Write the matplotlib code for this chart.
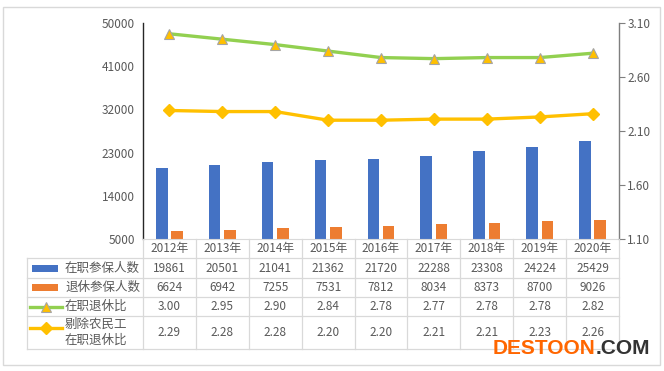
import matplotlib
matplotlib.use("Agg")
import matplotlib.pyplot as plt
from matplotlib.lines import Line2D
from matplotlib.patches import Rectangle
import matplotlib.transforms as mtransforms

plt.rcParams['font.family'] = ['Noto Sans CJK SC', 'DejaVu Sans']

years = ['2012年', '2013年', '2014年', '2015年', '2016年', '2017年', '2018年', '2019年', '2020年']
active = [19861, 20501, 21041, 21362, 21720, 22288, 23308, 24224, 25429]
retired = [6624, 6942, 7255, 7531, 7812, 8034, 8373, 8700, 9026]
ratio = [3.00, 2.95, 2.90, 2.84, 2.78, 2.77, 2.78, 2.78, 2.82]
ratio_ex = [2.29, 2.28, 2.28, 2.20, 2.20, 2.21, 2.21, 2.23, 2.26]
left_ticks = [5000, 14000, 23000, 32000, 41000, 50000]
right_ticks = [1.10, 1.60, 2.10, 2.60, 3.10]
row_labels = ['在职参保人数', '退休参保人数', '在职退休比', '剔除农民工\n在职退休比']

BLUE = '#4472C4'
ORANGE = '#ED7D31'
GREEN = '#92D050'
YELLOW = '#FFC000'
TXT = '#595959'
GRID = '#D9D9D9'

W, H = 664, 371
fig = plt.figure(figsize=(W / 100, H / 100), dpi=100)

def fx(x):
    return x / W

def fy(y):
    return 1 - y / H

# outer border
fig.add_artist(Rectangle((fx(3), fy(365)), fx(657), (362 - 4) / H, transform=fig.transFigure,
                         fill=False, edgecolor=GRID, lw=1.0))

L, R, T, B = 143, 619, 23, 239
ax = fig.add_axes([fx(L), fy(B), (R - L) / W, (B - T) / H])
ax2 = ax.twinx()

n = len(years)
xs = list(range(n))
bw = 0.22
ax.bar([x - 0.145 for x in xs], active, width=bw, color=BLUE, zorder=2)
ax.bar([x + 0.145 for x in xs], retired, width=bw, color=ORANGE, zorder=2)
ax.set_xlim(-0.5, n - 0.5)
ax.set_ylim(left_ticks[0], left_ticks[-1])
ax.set_yticks(left_ticks)
ax.set_yticklabels([str(v) for v in left_ticks], fontsize=8.5, color=TXT)
ax.tick_params(axis='y', length=0, pad=6)
ax.set_xticks([])
for s in ['top', 'right']:
    ax.spines[s].set_visible(False)
ax.spines['left'].set_color('#262626')
ax.spines['left'].set_linewidth(1.0)
ax.spines['bottom'].set_color(GRID)
ax.spines['bottom'].set_linewidth(0.8)

ax2.plot(xs, ratio, color=GREEN, lw=2.4, marker='^', markersize=7,
         markerfacecolor=YELLOW, markeredgecolor='#A5A5A5', markeredgewidth=0.8, zorder=3)
ax2.plot(xs, ratio_ex, color=YELLOW, lw=2.4, marker='D', markersize=6,
         markerfacecolor=YELLOW, markeredgecolor=YELLOW, zorder=3)
ax2.set_ylim(right_ticks[0], right_ticks[-1])
ax2.set_yticks(right_ticks)
ax2.set_yticklabels([f'{v:.2f}' for v in right_ticks], fontsize=8.5, color=TXT)
ax2.tick_params(axis='y', length=4, width=0.8, color='#7F7F7F', pad=2)
for s in ['top', 'left', 'bottom']:
    ax2.spines[s].set_visible(False)
ax2.spines['right'].set_color('#7F7F7F')
ax2.spines['right'].set_linewidth(1.0)

# data table
trans = mtransforms.blended_transform_factory(ax.transData, fig.transFigure)
row_y = [239, 258, 278, 297, 316, 349]
TL = 27

def hline(x0, x1, y):
    fig.add_artist(Line2D([fx(x0), fx(x1)], [fy(y), fy(y)], transform=fig.transFigure,
                          color=GRID, lw=0.9))

def vline(x, y0, y1):
    fig.add_artist(Line2D([fx(x), fx(x)], [fy(y0), fy(y1)], transform=fig.transFigure,
                          color=GRID, lw=0.9))

for y in row_y[1:]:
    hline(TL, R, y)
vline(TL, row_y[1], row_y[-1])
colw = (R - L) / n
for i in range(n + 1):
    vline(L + i * colw, row_y[0], row_y[-1])

def cy(r):
    return fy((row_y[r] + row_y[r + 1]) / 2)

for i, yr in enumerate(years):
    fig.text(i, cy(0), yr, transform=trans, ha='center', va='center', fontsize=8.5, color=TXT)
    fig.text(i, cy(1), str(active[i]), transform=trans, ha='center', va='center', fontsize=8.5, color=TXT)
    fig.text(i, cy(2), str(retired[i]), transform=trans, ha='center', va='center', fontsize=8.5, color=TXT)
    fig.text(i, cy(3), f'{ratio[i]:.2f}', transform=trans, ha='center', va='center', fontsize=8.5, color=TXT)
    fig.text(i, cy(4), f'{ratio_ex[i]:.2f}', transform=trans, ha='center', va='center', fontsize=8.5, color=TXT)

# legend keys in table
for r, col in [(1, BLUE), (2, ORANGE)]:
    yc = (row_y[r] + row_y[r + 1]) / 2
    fig.add_artist(Rectangle((fx(32), fy(yc + 3.5)), fx(26), 7 / H, transform=fig.transFigure,
                             color=col, lw=0))
yc = (row_y[3] + row_y[4]) / 2
fig.add_artist(Line2D([fx(30), fx(62)], [fy(yc), fy(yc)], transform=fig.transFigure,
                      color=GREEN, lw=2.4))
fig.add_artist(Line2D([fx(46)], [fy(yc)], transform=fig.transFigure, marker='^', markersize=7,
                      markerfacecolor=YELLOW, markeredgecolor='#A5A5A5', markeredgewidth=0.8))
yc = (row_y[4] + row_y[5]) / 2 - 4.5
fig.add_artist(Line2D([fx(30), fx(62)], [fy(yc), fy(yc)], transform=fig.transFigure,
                      color=YELLOW, lw=2.4))
fig.add_artist(Line2D([fx(46)], [fy(yc)], transform=fig.transFigure, marker='D', markersize=6,
                      markerfacecolor=YELLOW, markeredgecolor=YELLOW))

for r, lab in enumerate(row_labels):
    fig.text(fx(65), cy(r + 1), lab, ha='left', va='center', fontsize=9, color=TXT, linespacing=1.25)

# watermark
wm = fig.text(fx(493), fy(349), 'DESTOON', ha='left', va='center', fontsize=15,
              fontweight='bold', color='#FF6600', family='Liberation Sans')
fig.canvas.draw()
bb = wm.get_window_extent()
fig.text(bb.x1 / W, fy(349), '.COM', ha='left', va='center', fontsize=15,
         fontweight='bold', color='#333333', family='Liberation Sans')

fig.savefig('out.png', dpi=100, facecolor='white')
